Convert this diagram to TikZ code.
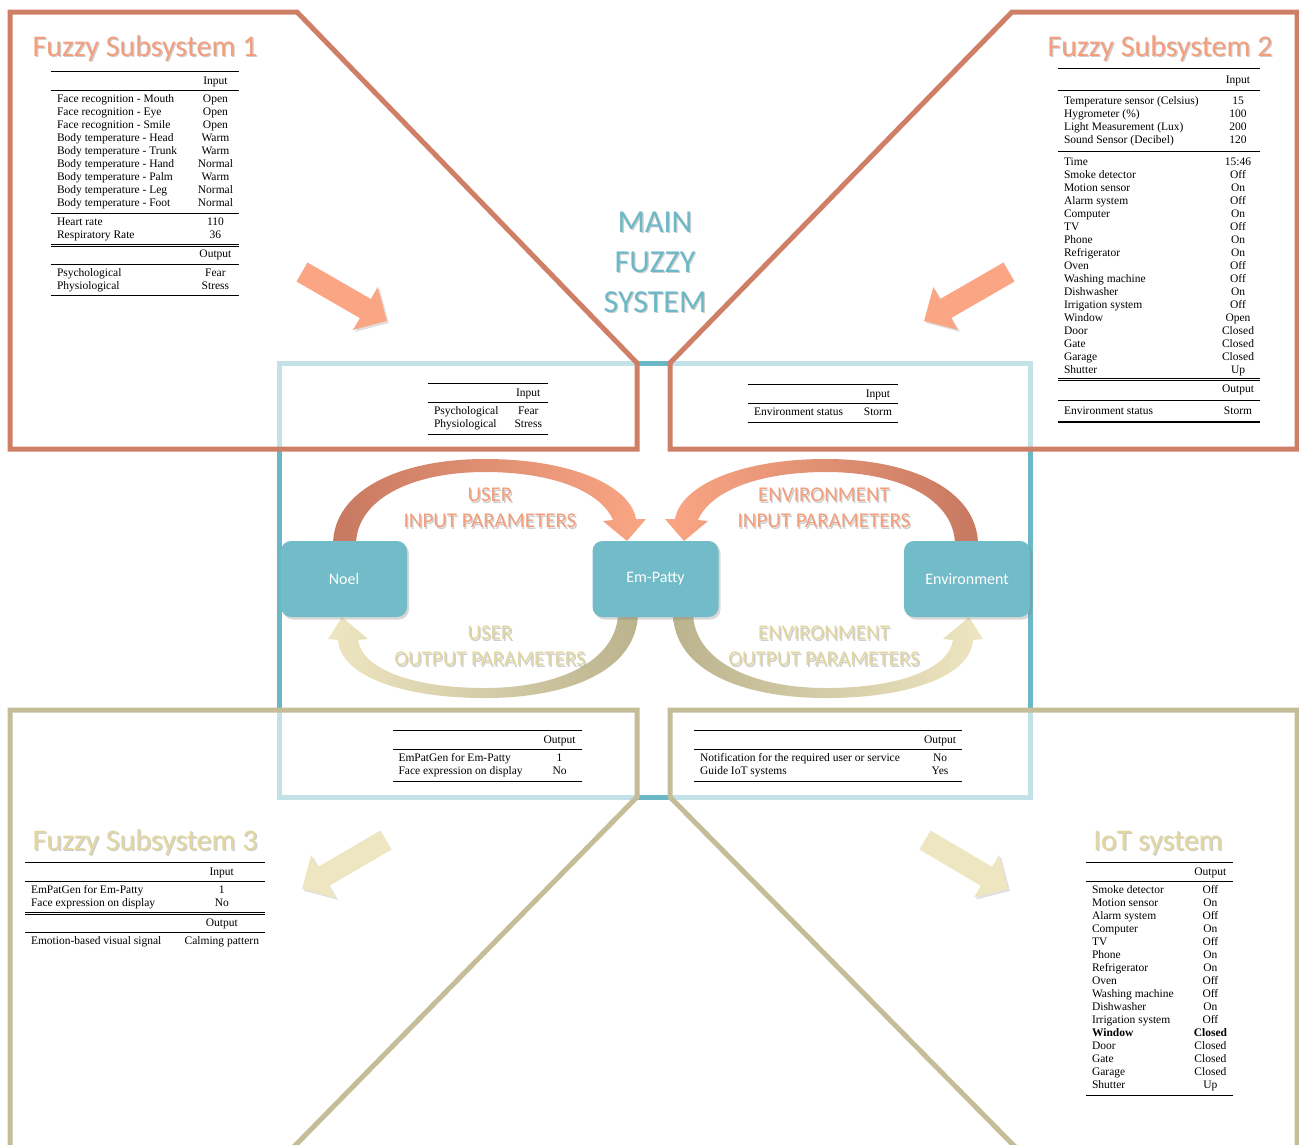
\documentclass[tikz,border=0pt]{standalone}
\usepackage{fontspec}
\setmainfont{Liberation Serif}
\newfontfamily\carlito{Carlito}
\usepackage{booktabs}
\usetikzlibrary{arrows.meta, shadows}

\definecolor{frameorange}{RGB}{207,127,102}
\definecolor{arrowsalmon}{RGB}{250,166,132}
\definecolor{titlesalmon}{RGB}{243,158,124}
\definecolor{bandorange}{RGB}{199,121,97}
\definecolor{framekhaki}{RGB}{196,189,151}
\definecolor{arrowkhaki}{RGB}{238,230,192}
\definecolor{titlekhaki}{RGB}{226,215,160}
\definecolor{bandkhaki}{RGB}{186,179,142}
\definecolor{boxteal}{RGB}{114,187,200}
\definecolor{lineteal}{RGB}{106,183,197}
\definecolor{mainteal}{RGB}{108,184,198}

\setlength{\heavyrulewidth}{1.1pt}
\setlength{\lightrulewidth}{0.6pt}
\newcommand{\dblrule}{\specialrule{0.7pt}{1.5pt}{1.2pt}\specialrule{0.7pt}{0pt}{2.6pt}}
% text with a soft offset copy behind it
\newcommand{\shadowtext}[4]{%
  \node[#2, text=black!35, text opacity=.55, xshift=1.3pt, yshift=-1.3pt] at #3 {#4};
  \node[#2] (#1) at #3 {#4};}

\begin{document}
\begin{tikzpicture}[x=1pt, y=-1pt,
  frameO/.style={draw=frameorange, line width=5pt, fill=white, fill opacity=0.6},
  frameK/.style={draw=framekhaki, line width=5pt, fill=white, fill opacity=0.6},
  tbl/.style={anchor=north, inner sep=0pt, font=\fontsize{11.5}{13}\selectfont},
  title/.style={anchor=base, inner sep=0pt, font=\carlito\fontsize{30}{36}\selectfont},
  param/.style={align=center, inner sep=0pt, font=\carlito\fontsize{21}{26}\selectfont},
  agent/.style={rounded corners=10pt, fill=boxteal, text=white, minimum width=126pt,
    minimum height=76pt, font=\carlito\fontsize{16}{19}\selectfont,
    drop shadow={opacity=0.3, shadow xshift=2pt, shadow yshift=-2.5pt}},
  bigarrow/.style={line width=22pt, -{Triangle[length=25pt,width=48pt]},
    preaction={draw=black, opacity=0.12, transform canvas={shift={(2pt,-2pt)}}}}]

    \useasboundingbox (0,0) rectangle (1299,1144);
    \clip (0,0) rectangle (1299,1144);
    \fill[white] (0,0) rectangle (1299,1144);

    % Main fuzzy system frame
    \draw[lineteal, line width=5pt] (279,363) rectangle (1030,797);

    % Subsystem frames
    \draw[frameO] (10,12) -- (297,12) -- (637,363) -- (637,449) -- (10,449) -- cycle;
    \draw[frameO] (1012,12) -- (1297,12) -- (1297,449) -- (670,449) -- (670,363) -- cycle;
    \draw[frameK] (10,1164) -- (10,710) -- (637,710) -- (637,797) -- (277,1164) -- cycle;
    \draw[frameK] (1032,1164) -- (670,797) -- (670,710) -- (1297,710) -- (1297,1164) -- cycle;

    % Titles
    \shadowtext{fs1title}{title, text=titlesalmon}{(145,56)}{Fuzzy Subsystem 1}
    \shadowtext{fs2title}{title, text=titlesalmon}{(1160,56)}{Fuzzy Subsystem 2}
    \shadowtext{fs3title}{title, text=titlekhaki}{(145,850)}{Fuzzy Subsystem 3}
    \shadowtext{iottitle}{title, text=titlekhaki}{(1158,850)}{IoT system}
    \shadowtext{maintitle}{align=center, inner sep=0pt, text=mainteal,
      font=\carlito\fontsize{32}{40}\selectfont}{(655,262)}{MAIN\\FUZZY\\SYSTEM}

    % Fuzzy Subsystem 1
    \node[tbl] (fs1tab) at (145,71) {%
      \begin{tabular*}{188pt}{@{\hspace{\tabcolsep}\extracolsep{\fill}}lc}
        \toprule
         & Input\\
        \midrule
        Face recognition - Mouth & Open\\
        Face recognition - Eye & Open\\
        Face recognition - Smile & Open\\
        Body temperature - Head & Warm\\
        Body temperature - Trunk & Warm\\
        Body temperature - Hand & Normal\\
        Body temperature - Palm & Warm\\
        Body temperature - Leg & Normal\\
        Body temperature - Foot & Normal\\
        \midrule
        Heart rate & 110\\
        Respiratory Rate & 36\\
        \dblrule
         & Output\\
        \midrule
        Psychological & Fear\\
        Physiological & Stress\\
        \bottomrule
      \end{tabular*}};

    % Fuzzy Subsystem 2
    \node[tbl] (fs2tab) at (1159,68) {%
      \setlength{\aboverulesep}{3.3pt}\setlength{\belowrulesep}{4.6pt}%
      \begin{tabular*}{202pt}{@{\hspace{\tabcolsep}\extracolsep{\fill}}lc}
        \toprule
         & Input\\
        \midrule
        Temperature sensor (Celsius) & 15\\
        Hygrometer (\%) & 100\\
        Light Measurement (Lux) & 200\\
        Sound Sensor (Decibel) & 120\\
        \midrule
        Time & 15:46\\
        Smoke detector & Off\\
        Motion sensor & On\\
        Alarm system & Off\\
        Computer & On\\
        TV & Off\\
        Phone & On\\
        Refrigerator & On\\
        Oven & Off\\
        Washing machine & Off\\
        Dishwasher & On\\
        Irrigation system & Off\\
        Window & Open\\
        Door & Closed\\
        Gate & Closed\\
        Garage & Closed\\
        Shutter & Up\\
        \dblrule
         & Output\\
        \midrule
        Environment status & Storm\\
        \bottomrule
      \end{tabular*}};

    % Main system inputs and outputs
    \node[tbl] (userin) at (488,383) {%
      \begin{tabular*}{120pt}{@{\hspace{\tabcolsep}\extracolsep{\fill}}lc}
        \toprule
         & Input\\
        \midrule
        Psychological & Fear\\
        Physiological & Stress\\
        \bottomrule
      \end{tabular*}};
    \node[tbl] (envin) at (823,384) {%
      \begin{tabular*}{150pt}{@{\hspace{\tabcolsep}\extracolsep{\fill}}lc}
        \toprule
         & Input\\
        \midrule
        Environment status & Storm\\
        \bottomrule
      \end{tabular*}};
    \node[tbl] (userout) at (487,730) {%
      \begin{tabular*}{189pt}{@{\hspace{\tabcolsep}\extracolsep{\fill}}lc}
        \toprule
         & Output\\
        \midrule
        EmPatGen for Em-Patty & 1\\
        Face expression on display & No\\
        \bottomrule
      \end{tabular*}};
    \node[tbl] (envout) at (828,730) {%
      \begin{tabular*}{268pt}{@{\hspace{\tabcolsep}\extracolsep{\fill}}lc}
        \toprule
         & Output\\
        \midrule
        Notification for the required user or service & No\\
        Guide IoT systems & Yes\\
        \bottomrule
      \end{tabular*}};

    % Fuzzy Subsystem 3
    \node[tbl] (fs3tab) at (145,862) {%
      \begin{tabular*}{240pt}{@{\hspace{\tabcolsep}\extracolsep{\fill}}lc}
        \toprule
         & Input\\
        \midrule
        EmPatGen for Em-Patty & 1\\
        Face expression on display & No\\
        \dblrule
         & Output\\
        \midrule
        Emotion-based visual signal & Calming pattern\\
      \end{tabular*}};

    % IoT system
    \node[tbl] (iottab) at (1159.5,862) {%
      \begin{tabular*}{147pt}{@{\hspace{\tabcolsep}\extracolsep{\fill}}lc}
        \toprule
         & Output\\
        \midrule
        Smoke detector & Off\\
        Motion sensor & On\\
        Alarm system & Off\\
        Computer & On\\
        TV & Off\\
        Phone & On\\
        Refrigerator & On\\
        Oven & Off\\
        Washing machine & Off\\
        Dishwasher & On\\
        Irrigation system & Off\\
        \textbf{Window} & \textbf{Closed}\\
        Door & Closed\\
        Gate & Closed\\
        Garage & Closed\\
        Shutter & Up\\
        \bottomrule
      \end{tabular*}};

    % Block arrows
    \coordinate (a1s) at (302,272);  \coordinate (a1e) at (387,321);
    \coordinate (a2s) at (1009,272); \coordinate (a2e) at (924,321);
    \coordinate (a3s) at (386,840);  \coordinate (a3e) at (302,889);
    \coordinate (a4s) at (925,840);  \coordinate (a4e) at (1008,889);
    \draw[bigarrow, draw=arrowsalmon] (a1s) -- (a1e);
    \draw[bigarrow, draw=arrowsalmon] (a2s) -- (a2e);
    \draw[bigarrow, draw=arrowkhaki] (a3s) -- (a3e);
    \draw[bigarrow, draw=arrowkhaki] (a4s) -- (a4e);

    % Parameter loops
    \shade[left color=bandorange, right color=arrowsalmon]
      (333,545) .. controls (333,490) and (400,459) .. (485,459)
      .. controls (570,459) and (630,485) .. (636,519) -- (646,519) -- (627,541)
      -- (603,521) -- (613,520) .. controls (600,490) and (550,472) .. (485,472)
      .. controls (410,472) and (356,500) .. (356,545) -- cycle;
    \shade[left color=arrowsalmon, right color=bandorange]
      (978,545) .. controls (978,490) and (911,459) .. (826,459)
      .. controls (741,459) and (681,485) .. (675,519) -- (665,519) -- (684,541)
      -- (708,521) -- (698,520) .. controls (711,490) and (761,472) .. (826,472)
      .. controls (901,472) and (955,500) .. (955,545) -- cycle;
    \shade[left color=arrowkhaki, right color=bandkhaki]
      (638,612) .. controls (638,670) and (570,698) .. (485,698)
      .. controls (400,698) and (340,675) .. (338,640) -- (328,639) -- (342,617)
      -- (368,639) -- (358,640) .. controls (362,668) and (410,688) .. (485,688)
      .. controls (560,688) and (618,660) .. (618,612) -- cycle;
    \shade[left color=bandkhaki, right color=arrowkhaki]
      (673,612) .. controls (673,670) and (741,698) .. (826,698)
      .. controls (911,698) and (971,675) .. (973,640) -- (983,639) -- (969,617)
      -- (943,639) -- (953,640) .. controls (949,668) and (901,688) .. (826,688)
      .. controls (751,688) and (693,660) .. (693,612) -- cycle;

    % Agents
    \node[agent] (noel) at (344,579) {Noel};
    \node[agent] (empatty) at (655.5,579) {Em-Patty};
    \node[agent] (environment) at (967,579) {Environment};

    % Loop labels
    \shadowtext{uinlabel}{param, text=titlesalmon}{(490,508)}{USER\\INPUT PARAMETERS}
    \shadowtext{einlabel}{param, text=titlesalmon}{(824,508)}{ENVIRONMENT\\INPUT PARAMETERS}
    \shadowtext{uoutlabel}{param, text=titlekhaki}{(490,646)}{USER\\OUTPUT PARAMETERS}
    \shadowtext{eoutlabel}{param, text=titlekhaki}{(824,646)}{ENVIRONMENT\\OUTPUT PARAMETERS}
\end{tikzpicture}
\end{document}
